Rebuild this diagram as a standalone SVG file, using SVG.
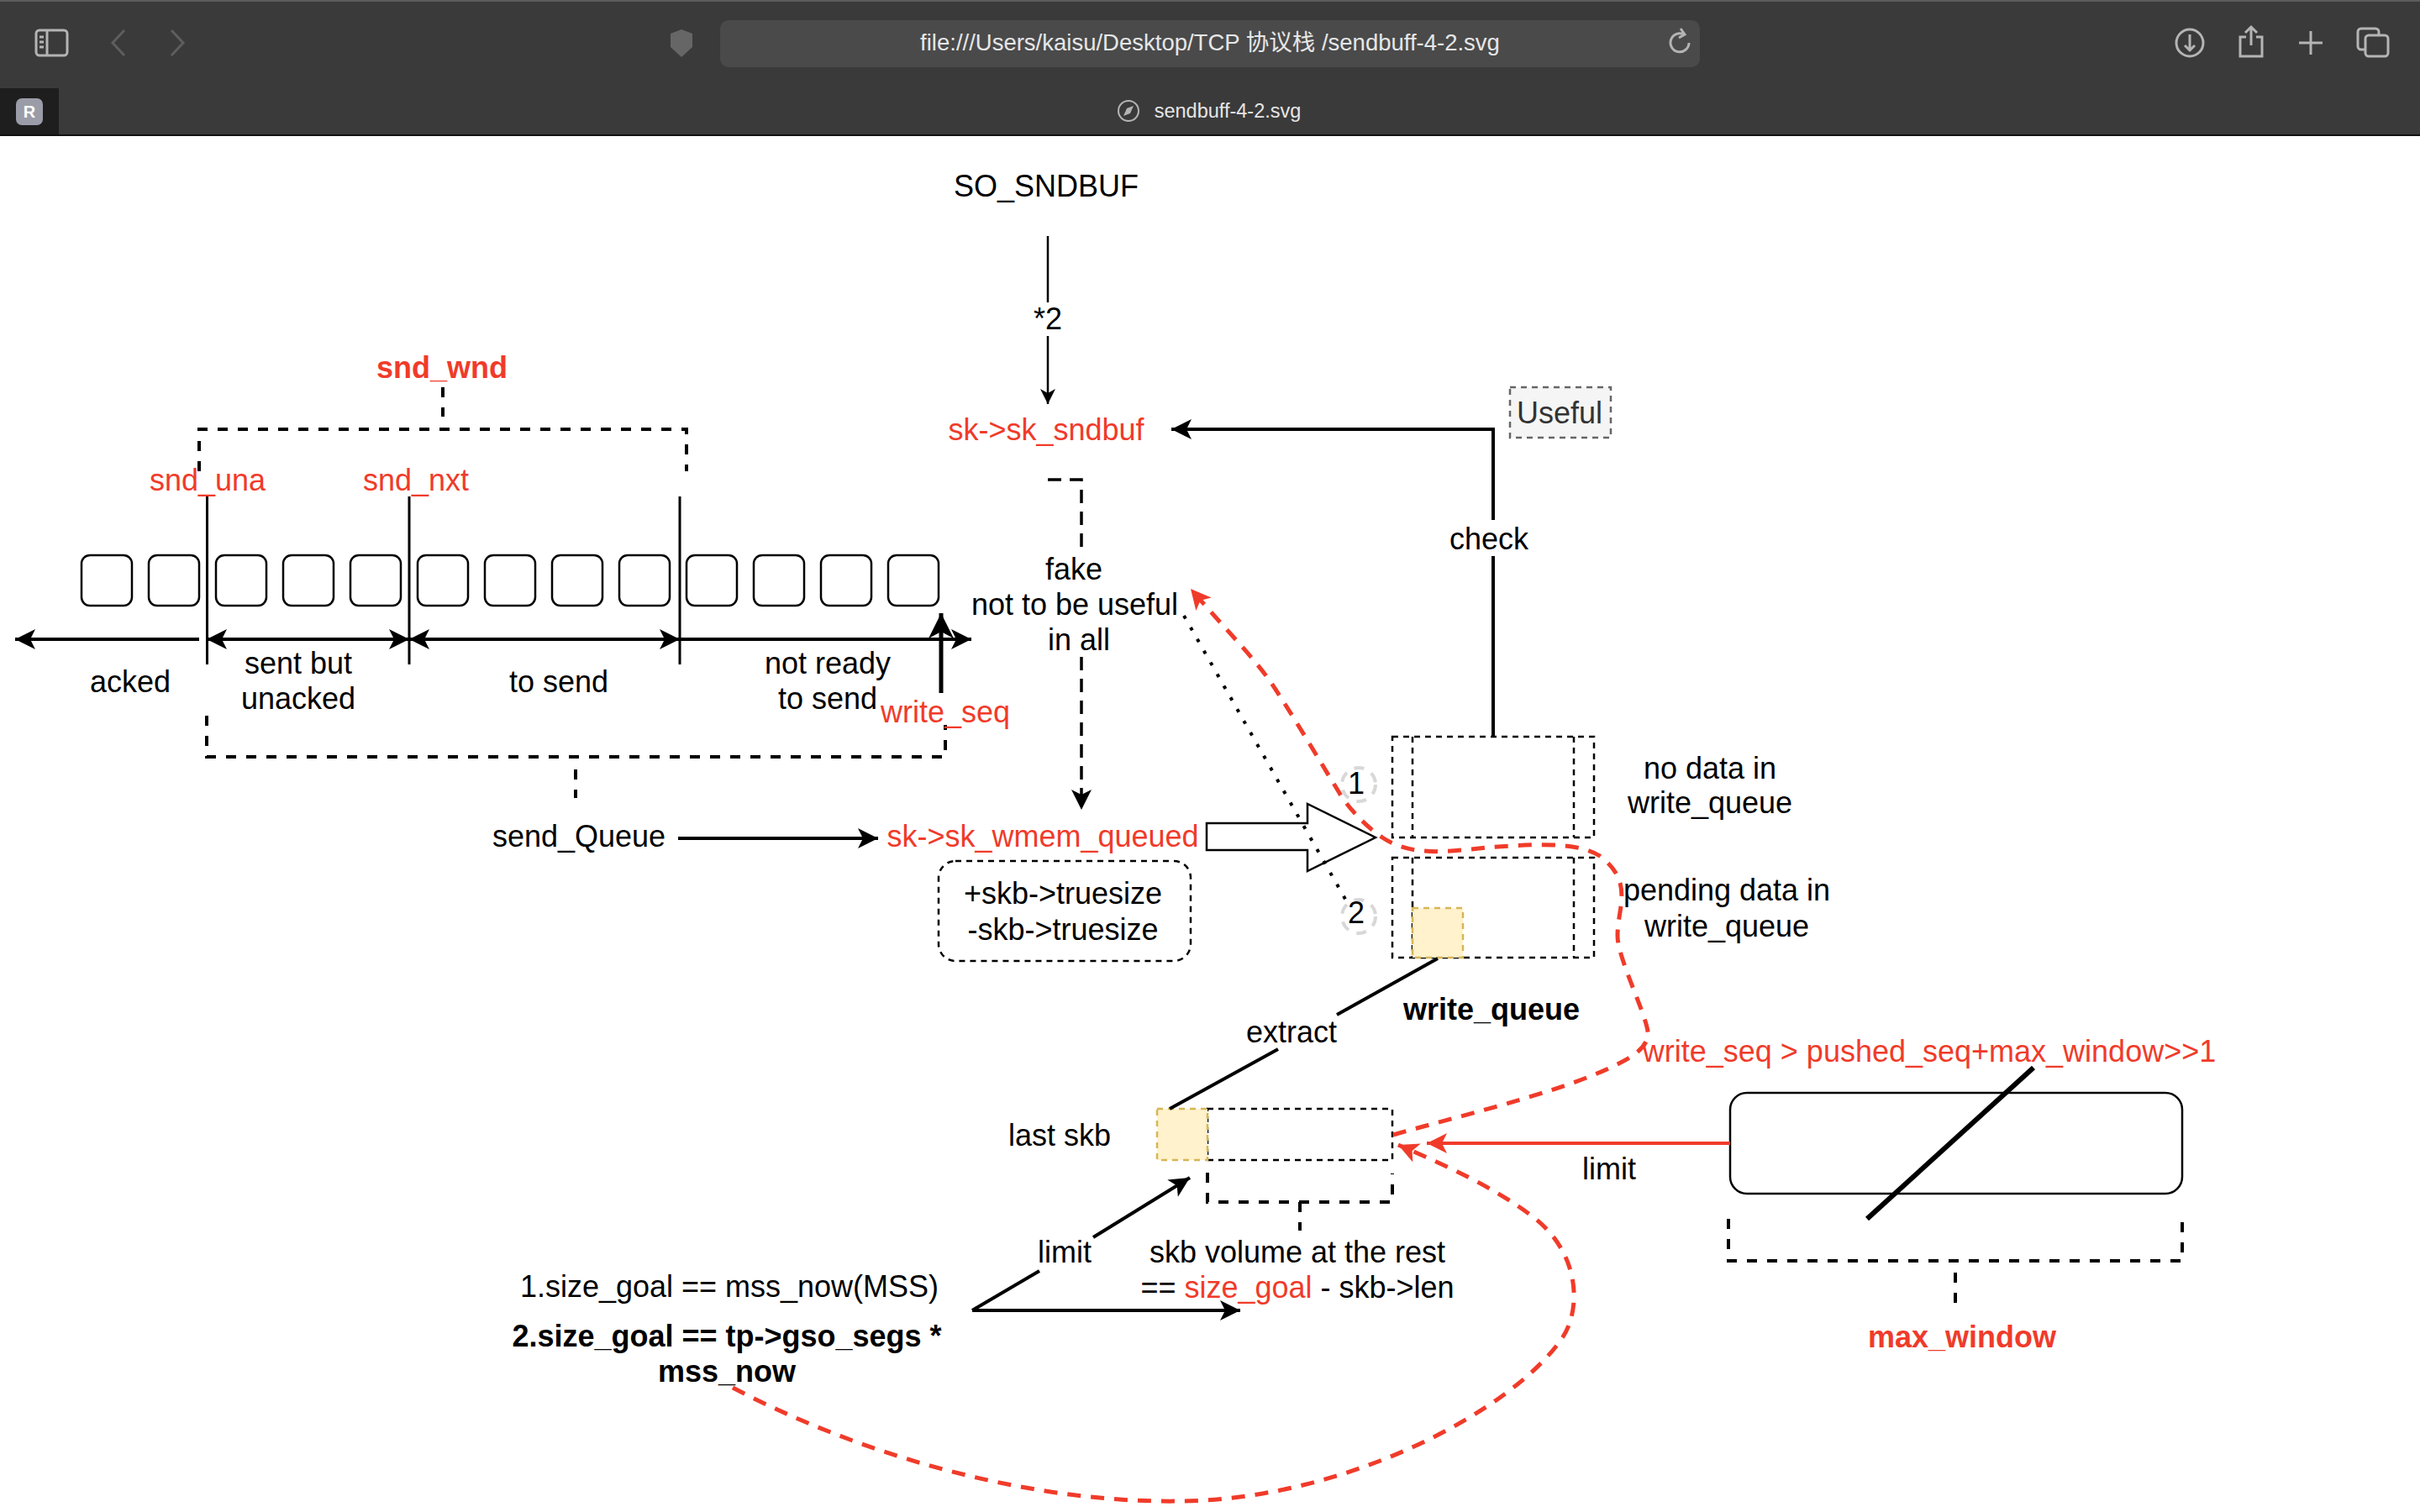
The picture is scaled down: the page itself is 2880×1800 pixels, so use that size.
<svg xmlns="http://www.w3.org/2000/svg" width="2880" height="1800" viewBox="0 0 2880 1800">
<style>
text{font-family:"Liberation Sans","Noto Sans CJK SC",Arial,sans-serif;font-size:36px;fill:#000;text-anchor:middle}
.red{fill:#f03b2a}
.b{font-weight:700}
.ch{font-size:27.500px;fill:#e6e6e6}
.line{fill:none;stroke:#000;stroke-width:4}
.thin{fill:none;stroke:#000;stroke-width:3}
.dash{fill:none;stroke:#000;stroke-width:4;stroke-dasharray:12 12}
.dash3{fill:none;stroke:#000;stroke-width:3.5;stroke-dasharray:16 10}
.fine{fill:none;stroke:#000;stroke-width:2.5;stroke-dasharray:7 6}
.rd{fill:none;stroke:#f03b2a;stroke-width:5;stroke-dasharray:16 12}
.cell{fill:#fff;stroke:#000;stroke-width:2.5}
.yel{fill:#fff2cc;stroke:#d6b656;stroke-width:2.5;stroke-dasharray:7 6}
.ic{fill:none;stroke:#b4b4b4;stroke-width:3}
.circ{fill:none;stroke:#d8d8d8;stroke-width:4;stroke-dasharray:12 10}
</style>
<defs>
<marker id="a" markerUnits="userSpaceOnUse" markerWidth="26" markerHeight="26" refX="24" refY="12" viewBox="0 0 26 24" orient="auto-start-reverse" overflow="visible"><path d="M0 0L24 12L0 24L6 12Z" fill="#000"/></marker>
<marker id="big" markerUnits="userSpaceOnUse" markerWidth="32" markerHeight="30" refX="30" refY="15" viewBox="0 0 32 30" orient="auto" overflow="visible"><path d="M0 0L30 15L0 30L8 15Z" fill="#000"/></marker>
<marker id="s" markerUnits="userSpaceOnUse" markerWidth="20" markerHeight="20" refX="18" refY="9" viewBox="0 0 20 18" orient="auto" overflow="visible"><path d="M0 0L18 9L0 18L5 9Z" fill="#000"/></marker>
<marker id="r" markerUnits="userSpaceOnUse" markerWidth="26" markerHeight="26" refX="24" refY="12" viewBox="0 0 26 24" orient="auto" overflow="visible"><path d="M0 0L24 12L0 24L6 12Z" fill="#f03b2a"/></marker>
</defs>
<rect width="2880" height="1800" fill="#fff"/>
<g id="browser-chrome">
<rect width="2880" height="161" fill="#3a3a3a"/>
<rect width="2880" height="2" fill="#5c5c5c"/>
<rect y="160" width="2880" height="2" fill="#111"/>
<rect y="105" width="70" height="55" fill="#1e1e1e"/>
<rect x="19" y="117" width="32" height="32" rx="7" fill="#9a9ca8"/>
<text x="35" y="140" class="b" style="font-size:20px;fill:#fff">R</text>
<rect x="43" y="36" width="37" height="30" rx="4" class="ic"/><path d="M56 36V66M47 44h5M47 50h5M47 56h5" class="ic"/>
<path d="M148 36L134 51L148 66M204 36L218 51L204 66" fill="none" stroke="#5e5e5e" stroke-width="3"/>
<path d="M811 35L824 40V56L811 68L798 56V40Z" fill="#666"/>
<rect x="857" y="24" width="1166" height="56" rx="10" fill="#4a4a4a"/>
<text x="1440" y="60" class="ch">file:///Users/kaisu/Desktop/TCP 协议栈 /sendbuff-4-2.svg</text>
<path d="M2004 41A11 11 0 1 0 2010 51M2000 34L2005 41L1998 45" class="ic" stroke-width="2"/>
<circle cx="2606" cy="51" r="16" class="ic"/><path d="M2606 41V60M2600 54L2606 60L2612 54" class="ic"/>
<path d="M2673 44H2666V67H2692V44H2685M2679 54V32M2672 39L2679 32L2686 39" class="ic"/>
<path d="M2736 51H2764M2750 37V65" class="ic"/>
<rect x="2806" y="34" width="25" height="25" rx="4" class="ic"/><rect x="2815" y="42" width="27" height="25" rx="4" fill="#3a3a3a" stroke="#b4b4b4" stroke-width="3"/>
<circle cx="1343" cy="132" r="12" fill="none" stroke="#b4b4b4" stroke-width="2"/><path d="M1349 126L1345 135L1337 138L1341 129Z" fill="#b4b4b4"/>
<text x="1461" y="140" style="font-size:23.500px;fill:#e6e6e6">sendbuff-4-2.svg</text>
</g>
<g id="cells">
<rect x="97" y="661" width="60" height="60" rx="10" class="cell"/><rect x="177" y="661" width="60" height="60" rx="10" class="cell"/><rect x="257" y="661" width="60" height="60" rx="10" class="cell"/><rect x="337" y="661" width="60" height="60" rx="10" class="cell"/><rect x="417" y="661" width="60" height="60" rx="10" class="cell"/><rect x="497" y="661" width="60" height="60" rx="10" class="cell"/><rect x="577" y="661" width="60" height="60" rx="10" class="cell"/><rect x="657" y="661" width="60" height="60" rx="10" class="cell"/><rect x="737" y="661" width="60" height="60" rx="10" class="cell"/><rect x="817" y="661" width="60" height="60" rx="10" class="cell"/><rect x="897" y="661" width="60" height="60" rx="10" class="cell"/><rect x="977" y="661" width="60" height="60" rx="10" class="cell"/><rect x="1057" y="661" width="60" height="60" rx="10" class="cell"/>
</g>
<g id="write-queue-empty">
<rect x="1657" y="877" width="240" height="120" class="fine"/><path d="M1681 877V997M1873 877V997" class="fine"/>
</g>
<g id="write-queue-pending">
<rect x="1657" y="1021" width="240" height="119" class="fine"/><path d="M1681 1021V1140M1873 1021V1140" class="fine"/>
<rect x="1681" y="1081" width="60" height="59" class="yel"/>
</g>
<g id="last-skb">
<rect x="1437" y="1320" width="220" height="61" class="fine"/>
<rect x="1377" y="1320" width="60" height="61" class="yel"/>
</g>
<g id="truesize-box">
<rect x="1117" y="1025" width="300" height="119" rx="20" class="fine"/>
<text x="1265" y="1076">+skb-&gt;truesize</text><text x="1265" y="1119">-skb-&gt;truesize</text>
</g>
<g id="useful-box">
<rect x="1797" y="461" width="120" height="60" fill="#f5f5f5" stroke="#666" stroke-width="2.5" stroke-dasharray="7 6"/>
<text x="1856" y="504" style="fill:#333">Useful</text>
</g>
<g id="max-window-box"><rect x="2059" y="1301" width="538" height="120" rx="20" class="cell"/></g>
<g id="connectors">
<path d="M246.500 591V791M487 591V791M809 591V791" class="thin"/>
<path d="M237 761H18" class="line" marker-end="url(#a)"/>
<path d="M246 761H487" class="line" marker-start="url(#a)" marker-end="url(#a)"/>
<path d="M487 761H809" class="line" marker-start="url(#a)" marker-end="url(#a)"/>
<path d="M809 761H1156" class="line" marker-end="url(#a)"/>
<path d="M1120 825V730" fill="none" stroke="#000" stroke-width="5" marker-end="url(#big)"/>
<path d="M237 561V511H817V561M527 461V496" class="dash"/>
<path d="M246 852V901H1125V863M685 916V950" class="dash"/>
<path d="M807 998H1045" class="line" marker-end="url(#a)"/>
<path d="M1247 281V360" fill="none" stroke="#000" stroke-width="2.500"/>
<path d="M1247 400V481" fill="none" stroke="#000" stroke-width="2.500" marker-end="url(#s)"/>
<path d="M1777 876V662M1777 619V511H1394" class="line" marker-end="url(#a)"/>
<path d="M1247 571H1287V656M1287 782V964" class="dash3" marker-end="url(#a)"/>
<path d="M1436 980H1556V957L1637 997L1556 1037V1012H1436Z" fill="#fff" stroke="#000" stroke-width="2.500"/>
<path d="M1409 733L1602 1072" fill="none" stroke="#000" stroke-width="4" stroke-dasharray="4 12"/>
<path d="M1658 1351C1760 1322 1880 1295 1941 1258C1955 1249 1963 1238 1961 1228C1958 1205 1925 1140 1925 1114C1925 1080 1945 1050 1904 1019C1875 1000 1812 1006 1770 1009C1720 1014 1680 1020 1645 997C1620 980 1600 955 1594 944C1570 905 1550 870 1513 813C1490 780 1450 740 1417 701" class="rd" marker-end="url(#r)"/>
<path d="M872 1652C1040 1740 1240 1790 1406 1787C1600 1785 1800 1680 1859 1593C1882 1560 1882 1490 1821 1446C1775 1412 1720 1387 1664 1363" class="rd" marker-end="url(#r)"/>
<path d="M1711 1141L1591 1208M1521 1249L1392 1320" class="line"/>
<path d="M1437 1396V1431H1657V1397M1547 1431V1465" class="dash"/>
<path d="M1237 1513L1157 1560" class="line"/><path d="M1301 1473L1416 1402" class="line" marker-end="url(#a)"/>
<path d="M1157 1560H1476" class="line" marker-end="url(#a)"/>
<path d="M2059 1361H1698" fill="none" stroke="#f03b2a" stroke-width="4" marker-end="url(#r)"/>
<path d="M2420 1271L2222 1451" fill="none" stroke="#000" stroke-width="6"/>
<path d="M2057 1451V1501H2597V1455M2327 1515V1551" class="dash"/>
</g>
<g id="step-circles">
<circle cx="1617" cy="934" r="20" class="circ"/><circle cx="1617" cy="1091" r="20" class="circ"/>
<text x="1614" y="945">1</text><text x="1614" y="1099">2</text>
</g>
<g id="labels">
<text x="1245" y="234">SO_SNDBUF</text>
<text x="1247" y="392">*2</text>
<text x="1245" y="524" class="red">sk-&gt;sk_sndbuf</text>
<text x="526" y="450" class="red b">snd_wnd</text>
<text x="247" y="584" class="red">snd_una</text>
<text x="495" y="584" class="red">snd_nxt</text>
<text x="155" y="824">acked</text>
<text x="355" y="802">sent but</text><text x="355" y="844">unacked</text>
<text x="665" y="824">to send</text>
<text x="985" y="802">not ready</text><text x="985" y="844">to send</text>
<text x="1125" y="860" class="red">write_seq</text>
<text x="689" y="1008">send_Queue</text>
<text x="1241" y="1008" class="red">sk-&gt;sk_wmem_queued</text>
<text x="1278" y="690">fake</text><text x="1279" y="732">not to be useful</text><text x="1284" y="774">in all</text>
<text x="1772" y="654">check</text>
<text x="2035" y="927">no data in</text><text x="2035" y="968">write_queue</text>
<text x="2055" y="1072">pending data in</text><text x="2055" y="1115">write_queue</text>
<text x="1537" y="1241">extract</text>
<text x="1775" y="1214" class="b">write_queue</text>
<text x="1261" y="1364">last skb</text>
<text x="1267" y="1503">limit</text>
<text x="1544" y="1503">skb volume at the rest</text>
<text x="1544" y="1545">== <tspan class="red">size_goal</tspan> - skb-&gt;len</text>
<text x="1915" y="1404">limit</text>
<text x="2296" y="1264" class="red">write_seq &gt; pushed_seq+max_window&gt;&gt;1</text>
<text x="2335" y="1604" class="red b">max_window</text>
<text x="868" y="1544">1.size_goal == mss_now(MSS)</text>
<text x="865" y="1603" class="b">2.size_goal == tp-&gt;gso_segs *</text>
<text x="865" y="1645" class="b">mss_now</text>
</g>
</svg>
